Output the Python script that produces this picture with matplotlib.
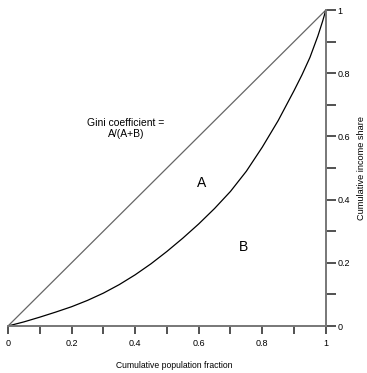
import numpy as np
import matplotlib.pyplot as plt
from matplotlib.ticker import MultipleLocator

plt.rcParams['font.family'] = ['Liberation Sans', 'DejaVu Sans']

# Lorenz curve
pop_share = [0, 0.05, 0.1, 0.15, 0.2, 0.25, 0.3, 0.35, 0.4, 0.45, 0.5, 0.55, 0.6,
             0.65, 0.7, 0.75, 0.8, 0.85, 0.9, 0.925, 0.95, 0.975, 0.99, 1.0]
income_share = [0, 0.013, 0.028, 0.044, 0.061, 0.081, 0.104, 0.131, 0.162, 0.197,
                0.236, 0.278, 0.323, 0.372, 0.426, 0.490, 0.566, 0.650, 0.745,
                0.795, 0.850, 0.918, 0.965, 1.0]
equality = [0, 1]

ticks = [0, 0.2, 0.4, 0.6, 0.8, 1]
tick_labels = ['0', '0.2', '0.4', '0.6', '0.8', '1']

fig = plt.figure(figsize=(3.67, 3.73), dpi=100)
ax = fig.add_axes([0.0218, 0.126, 0.866, 0.847])

ax.plot(equality, equality, color='#666666', lw=0.9)
ax.plot(pop_share, income_share, color='black', lw=0.9)

ax.set_xlim(0, 1)
ax.set_ylim(0, 1)

for s in ['top', 'left']:
    ax.spines[s].set_visible(False)
for s in ['bottom', 'right']:
    ax.spines[s].set_color('#777777')
    ax.spines[s].set_linewidth(1.4)

ax.yaxis.tick_right()
ax.yaxis.set_label_position('right')
ax.set_xticks(ticks)
ax.set_xticklabels(tick_labels)
ax.set_yticks(ticks)
ax.set_yticklabels(tick_labels)
ax.xaxis.set_minor_locator(MultipleLocator(0.1))
ax.yaxis.set_minor_locator(MultipleLocator(0.1))
ax.tick_params(axis='x', which='both', direction='out', length=6, width=1.2,
               color='#333333', labelsize=6.5, pad=3.5)
ax.tick_params(axis='y', which='both', direction='out', length=7, width=1.2,
               color='#333333', labelsize=6.5, pad=1.5)

ax.set_xlabel('Cumulative population fraction', fontsize=6.2)
ax.xaxis.set_label_coords(0.522, -0.111)
ax.set_ylabel('Cumulative income share', fontsize=6.6, rotation=90)
ax.yaxis.set_label_coords(1.098, 0.5)

ax.text(0.371, 0.625, 'Gini coefficient =\nA/(A+B)', fontsize=7.5, ha='center',
        va='center', linespacing=1.1)
ax.text(0.61, 0.453, 'A', fontsize=10, ha='center', va='center')
ax.text(0.742, 0.25, 'B', fontsize=10, ha='center', va='center')

plt.savefig('out.png', dpi=100)
